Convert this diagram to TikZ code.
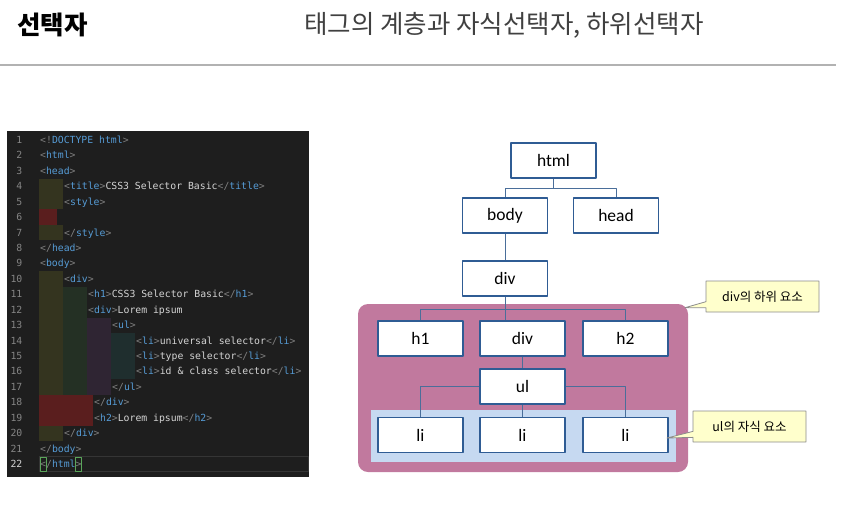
\documentclass[tikz,border=0pt]{standalone}
\usepackage{fontspec}
\setmainfont{Carlito}
\newfontfamily\kr{Noto Sans CJK KR}
\newfontfamily\codefont{DejaVu Sans Mono}
\usetikzlibrary{shapes.callouts}

\definecolor{codebg}{HTML}{1E1E1E}
\definecolor{codegray}{HTML}{808080}
\definecolor{codeblue}{HTML}{569CD6}
\definecolor{codetext}{HTML}{D4D4D4}
\definecolor{lineno}{HTML}{858585}
\definecolor{guideolive}{HTML}{34341F}
\definecolor{guidegreen}{HTML}{243024}
\definecolor{guidepurple}{HTML}{2F2533}
\definecolor{guideteal}{HTML}{1F2E2E}
\definecolor{guidered}{HTML}{5A1E1E}
\definecolor{boxblue}{RGB}{47,92,148}
\definecolor{linkblue}{RGB}{74,110,154}
\definecolor{descpink}{RGB}{193,121,158}
\definecolor{childblue}{HTML}{C6D9F1}
\definecolor{notefill}{HTML}{FFFFCC}
\definecolor{notedraw}{HTML}{8C8C8C}

\newcommand\opentag[1]{\textcolor{codegray}{<}\textcolor{codeblue}{#1}\textcolor{codegray}{>}}
\newcommand\closetag[1]{\textcolor{codegray}{</}\textcolor{codeblue}{#1}\textcolor{codegray}{>}}

\tikzset{
  tagbox/.style={draw=boxblue,line width=1.4pt,fill=white,minimum width=85pt,
    minimum height=35pt,inner sep=0pt,font=\fontsize{17.5}{20}\selectfont},
  conn/.style={draw=linkblue,line width=1pt},
  note/.style={rectangle callout,draw=notedraw,fill=notefill,line width=0.8pt,
    minimum width=113pt,minimum height=31pt,inner sep=0pt,callout pointer width=6pt,
    font=\kr\fontsize{12.5}{14}\selectfont},
  codeline/.style={anchor=base west,inner sep=0pt,text=codetext,
    font=\codefont\fontsize{9.8}{11}\selectfont},
  linenum/.style={anchor=base east,inner sep=0pt,text=lineno,
    font=\codefont\fontsize{9.8}{11}\selectfont}
}

\begin{document}
\begin{tikzpicture}[x=1pt,y=-1pt,line join=round]
  \useasboundingbox (0,0) rectangle (843,507);
  % heading
  \node[anchor=west,inner sep=0pt,font=\kr\bfseries\fontsize{25.5}{28}\selectfont] (title) at (17,25) {선택자};
  \node[anchor=west,inner sep=0pt,text=black!75,font=\kr\fontsize{25.5}{28}\selectfont] (subtitle) at (304,25) {태그의 계층과 자식선택자, 하위선택자};
  \draw[black!30,line width=1.6pt] (0,65) -- (836,65);

  % code panel
  \fill[codebg] (7,131) rectangle (309,477);
  \fill[guideolive] (39,178.6) rectangle (63,209.4);
  \fill[guidered] (39,209.4) rectangle (57,224.9);
  \fill[guideolive] (39,224.9) rectangle (63,240.3);
  \fill[guideolive] (39,271.2) rectangle (63,394.6);
  \fill[guidegreen] (63,286.6) rectangle (87,394.6);
  \fill[guidepurple] (87,317.5) rectangle (111,394.6);
  \fill[guideteal] (111,332.9) rectangle (135,379.2);
  \fill[guidered] (39,394.6) rectangle (93,425.5);
  \fill[guideolive] (39,425.5) rectangle (63,440.9);
  \draw[white!10!codebg,line width=0.8pt] (39,456.3) rectangle (308.5,471.7);
  \draw[codegray!70!green,line width=0.6pt] (40,457) rectangle (46,471);
  \draw[codegray!70!green,line width=0.6pt] (75.4,457) rectangle (81.4,471);
  \foreach \n in {1,...,21}
    \node[linenum] (num\n) at (22.5,{143.5+15.43*(\n-1)}) {\n};
  \node[linenum,text=codetext] (num22) at (22.5,{143.5+15.43*21}) {22};
  \foreach \n/\xx/\txt in {
      1/40/{\textcolor{codegray}{<!}\textcolor{codeblue}{DOCTYPE html}\textcolor{codegray}{>}},
      2/40/{\opentag{html}},
      3/40/{\opentag{head}},
      4/64/{\opentag{title}CSS3 Selector Basic\closetag{title}},
      5/64/{\opentag{style}},
      7/64/{\closetag{style}},
      8/40/{\closetag{head}},
      9/40/{\opentag{body}},
      10/64/{\opentag{div}},
      11/88/{\opentag{h1}CSS3 Selector Basic\closetag{h1}},
      12/88/{\opentag{div}Lorem ipsum},
      13/112/{\opentag{ul}},
      14/136/{\opentag{li}universal selector\closetag{li}},
      15/136/{\opentag{li}type selector\closetag{li}},
      16/136/{\opentag{li}id \& class selector\closetag{li}},
      17/112/{\closetag{ul}},
      18/94/{\closetag{div}},
      19/94/{\opentag{h2}Lorem ipsum\closetag{h2}},
      20/64/{\closetag{div}},
      21/40/{\closetag{body}},
      22/40/{\closetag{html}}}
    \node[codeline] (code\n) at (\xx,{143.5+15.43*(\n-1)}) {\txt};

  % tree
  \fill[descpink] (358,304) [rounded corners=10pt] rectangle (688,472);
  \fill[childblue] (371,410) rectangle (676,462);
  \node[tagbox] (html) at (553.5,160.5) {html};
  \node[tagbox] (body) at (505,215.5) {body};
  \node[tagbox] (head) at (616,215.5) {head};
  \node[tagbox] (div) at (505,278.5) {div};
  \node[tagbox] (h1) at (420.5,338.5) {h1};
  \node[tagbox] (inner) at (522.5,338.5) {div};
  \node[tagbox] (h2) at (625.5,338.5) {h2};
  \node[tagbox] (ul) at (522.5,386.5) {ul};
  \node[tagbox] (li1) at (420.5,435) {li};
  \node[tagbox] (li2) at (522.5,435) {li};
  \node[tagbox] (li3) at (625.5,435) {li};
  \draw[conn] (html.south) -- ++(0,10) -| (body.north);
  \draw[conn] (html.south) -- ++(0,10) -| (head.north);
  \draw[conn] (body) -- (div);
  \draw[conn] (div.south) -- ++(0,13) -| (h1.north);
  \draw[conn] (div.south) -- ++(0,13) -| (h2.north);
  \draw[conn] (div.south) -- (div.south |- inner.north);
  \draw[conn] (inner) -- (ul);
  \draw[conn] (ul.west) -| (li1.north);
  \draw[conn] (ul.east) -| (li3.north);
  \draw[conn] (ul) -- (li2);

  % notes
  \node[note,callout absolute pointer={(685,307.7)}] (desc) at (762.5,296.5) {div의 하위 요소};
  \node[note,callout absolute pointer={(667,438)}] (child) at (749.5,426.5) {ul의 자식 요소};
\end{tikzpicture}
\end{document}
